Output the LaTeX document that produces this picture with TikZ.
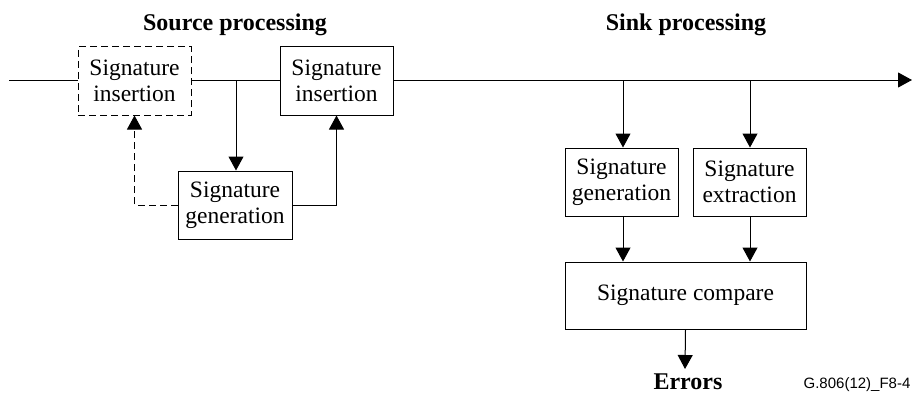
\documentclass[tikz,border=0pt]{standalone}
\usepackage{fontspec}
\setmainfont{Liberation Serif}
\newfontfamily\labelfont{Liberation Sans}
\usetikzlibrary{arrows.meta}
\begin{document}
\begin{tikzpicture}[x=1pt,y=-1pt,
  every node/.style={font=\fontsize{23.5}{26}\selectfont},
  blk/.style={draw,line width=1pt,inner sep=0pt,align=center},
  dblk/.style={blk,dash pattern=on 7pt off 4pt},
  conn/.style={line width=1pt},
  arr/.style={conn,-{Triangle[length=14pt,width=15pt]}},
  darr/.style={arr,dash pattern=on 7pt off 4pt},
  title/.style={font=\fontsize{24}{26}\selectfont\bfseries}]
\useasboundingbox (0,0) rectangle (912,396);
% source side
\node[dblk,minimum width=113pt,minimum height=68pt] (ins1) at (134.5,81) {Signature\\insertion};
\node[blk,minimum width=113pt,minimum height=68pt] (ins2) at (336.5,81) {Signature\\insertion};
\node[blk,minimum width=114pt,minimum height=68pt] (gen1) at (235,205) {Signature\\generation};
% sink side
\node[blk,minimum width=113pt,minimum height=68pt] (gen2) at (621.5,182) {Signature\\generation};
\node[blk,minimum width=113pt,minimum height=68pt] (ext) at (749.5,182) {Signature\\extraction};
\node[blk,minimum width=241pt,minimum height=67pt] (cmp) at (685.5,295.5) {Signature compare};
% titles and labels
\node[title,anchor=base,inner sep=0pt] (err) at (688,389) {Errors};
\node[title] (srct) at (235,25) {Source processing};
\node[title] (sinkt) at (686,25) {Sink processing};
\node[font=\fontsize{15}{17}\selectfont\labelfont,anchor=base,inner sep=0pt] (fig) at (857,388) {G.806(12)\_F8-4};
% coordinates
\coordinate (start) at (9,80);
\coordinate (end) at (912,80);
\coordinate (tapA) at (236,80);
\coordinate (tapB) at (623,80);
\coordinate (tapC) at (750,80);
\coordinate (errtip) at (685,369);
% main line
\draw[conn] (start) -- (ins1.west |- start);
\draw[conn] (ins1.east |- start) -- (ins2.west |- start);
\draw[arr] (ins2.east |- start) -- (end);
% source connectors
\draw[arr] (tapA) -- (tapA |- gen1.north);
\draw[arr] (gen1.east) -| (ins2.south);
\draw[darr] (gen1.west) -| (ins1.south);
% sink connectors
\draw[arr] (tapB) -- (tapB |- gen2.north);
\draw[arr] (tapC) -- (tapC |- ext.north);
\draw[arr] (tapB |- gen2.south) -- (tapB |- cmp.north);
\draw[arr] (tapC |- ext.south) -- (tapC |- cmp.north);
\draw[arr] (cmp.south) -- (errtip);
\end{tikzpicture}
\end{document}
